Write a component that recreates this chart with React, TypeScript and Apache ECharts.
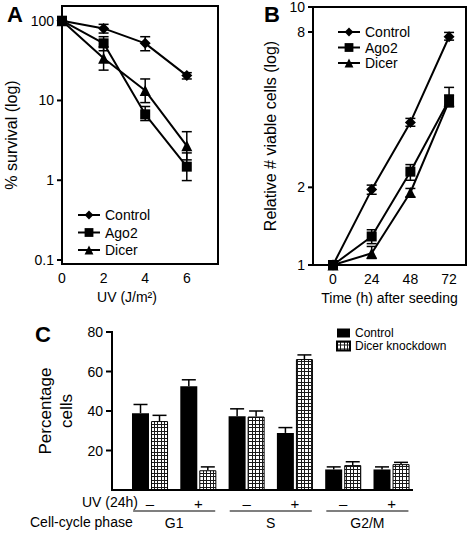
import React, { useEffect, useRef } from 'react';
import * as echarts from 'echarts';

const FONT = '"Liberation Sans", Arial, Helvetica, sans-serif';

// ---- Panel A: survival vs UV dose ----
const uvDose = [0, 2, 4, 6];
const survControl = [100, 80, 52, 20.5];
const survControlLow = [null, 70, 42, 18.6];
const survControlHigh = [null, 90, 63, 22.3];
const survAgo2 = [100, 52, 6.7, 1.48];
const survAgo2Low = [null, 42, 5.6, 0.99];
const survAgo2High = [null, 63, 8.4, 2.2];
const survDicer = [100, 33.8, 13.3, 2.7];
const survDicerLow = [null, 24, 9.4, 1.8];
const survDicerHigh = [null, 47, 18.6, 4.06];
const uvTicks = [0, 2, 4, 6];
const survTicks = [0.1, 1, 10, 100];

// ---- Panel B: viable cells vs time ----
const hours = [0, 24, 48, 72];
const cellsControl = [1, 1.96, 3.57, 7.67];
const cellsControlLow = [null, 1.88, 3.45, 7.44];
const cellsControlHigh = [null, 2.04, 3.7, 7.97];
const cellsAgo2 = [1, 1.29, 2.3, 4.36];
const cellsAgo2Low = [null, 1.21, 2.13, 4.13];
const cellsAgo2High = [null, 1.37, 2.45, 4.88];
const cellsDicer = [1, 1.11, 1.91, 4.32];
const cellsDicerLow = [null, 1.06, 1.84, 4.1];
const cellsDicerHigh = [null, 1.18, 1.98, 4.56];
const hourTicks = [0, 24, 48, 72];
const cellTicks = [1, 2, 8, 10];

// ---- Panel C: cell-cycle distribution ----
const uvConditions = ['\u2013', '+', '\u2013', '+', '\u2013', '+'];
const pctControl = [38.9, 52.5, 37.4, 28.9, 10.4, 10.4];
const pctControlHigh = [43.3, 55.8, 41.1, 31.6, 11.7, 11.7];
const pctDicer = [34.9, 10, 37.2, 66.3, 12.6, 13.1];
const pctDicerHigh = [37.8, 11.7, 40, 68.4, 14.3, 14];
const phases = ['G1', 'S', 'G2/M'];
const pctTicks = [20, 40, 60, 80];
const barNames = ['Control', 'Dicer knockdown'];

const lineNames = ['Control', 'Ago2', 'Dicer'];
const lineSymbols = ['diamond', 'rect', 'triangle'];
const lineSizes = [11, 10, 11];

// axis extents (layout)
const aXRange = [0, 7.5];
const aYRange = [0.0891, 152.8];
const bXRange = [-12.4, 82.5];
const bYRange = [1, 10];
const cXRange = [-0.787, 5.424];
const cYRange = [0, 80];

const txt = { color: '#000', fontFamily: FONT };

function pairs(xs: number[], ys: (number | null)[]) {
  return xs.map((x, i) => [x, ys[i]]);
}
function errData(xs: number[], lo: (number | null)[], hi: (number | null)[]) {
  const out: number[][] = [];
  xs.forEach((x, i) => {
    if (lo[i] != null && hi[i] != null) out.push([x, lo[i] as number, hi[i] as number]);
  });
  return out;
}

function makeHatch() {
  const c = document.createElement('canvas');
  c.width = 7;
  c.height = 7;
  const ctx = c.getContext('2d')!;
  ctx.fillStyle = '#fff';
  ctx.fillRect(0, 0, 7, 7);
  ctx.fillStyle = '#1a1a1a';
  ctx.fillRect(0, 0, 7, 1);
  ctx.fillRect(0, 3, 7, 1);
  ctx.fillRect(0, 0, 1, 7);
  ctx.fillRect(3, 0, 1, 7);
  return c;
}

const seg = (x1: number, y1: number, x2: number, y2: number, w: number) => ({
  type: 'line', shape: { x1, y1, x2, y2 }, style: { stroke: '#000', lineWidth: w },
});

const capErr = (cap: number) => (params: any, api: any) => {
  const x = api.value(0);
  const lo = api.coord([x, api.value(1)]);
  const hi = api.coord([x, api.value(2)]);
  return {
    type: 'group',
    children: [
      seg(lo[0], lo[1], hi[0], hi[1], 1.5),
      seg(lo[0] - cap, lo[1], lo[0] + cap, lo[1], 1.5),
      seg(hi[0] - cap, hi[1], hi[0] + cap, hi[1], 1.5),
    ],
  };
};

// frame + left ticks as graphic elements, positioned through the chart's own scales
const frameDecor = (xr: number[], yr: number[], ticks: number[], tickLen: number, full: boolean) =>
  (chart: any) => {
    const conv = (v: number[]) => chart.convertToPixel({ gridIndex: 0 }, v) as number[];
    const bl = conv([xr[0], yr[0]]);
    const tr = conv([xr[1], yr[1]]);
    const els: any[] = [
      seg(bl[0], bl[1] + 1, bl[0], tr[1] - 1, 2),
      seg(bl[0] - 1, bl[1], tr[0] + 1, bl[1], 2),
    ];
    if (full) {
      els.push(seg(bl[0] - 1, tr[1], tr[0] + 1, tr[1], 2));
      els.push(seg(tr[0], bl[1] + 1, tr[0], tr[1] - 1, 2));
    }
    ticks.forEach((t) => {
      const p = conv([xr[0], t]);
      els.push(seg(p[0] - tickLen, p[1], p[0], p[1], 2));
    });
    return els.map((e) => ({ ...e, z: 100 }));
  };

const noLine = { show: false, onZero: false };
const letter = (t: string, left: number, top: number) => ({
  type: 'text', left, top, style: { text: t, fontSize: 22, fontWeight: 'bold', fill: '#000', fontFamily: FONT },
});

function lineSeries(xs: number[], vals: number[][], lo: (number | null)[][], hi: (number | null)[][]) {
  const s: any[] = [];
  [0, 1, 2].forEach((k) => {
    s.push({ type: 'custom', name: 'err' + k, clip: false, renderItem: capErr(5), data: errData(xs, lo[k], hi[k]), z: 3 });
  });
  [0, 1, 2].forEach((k) => {
    s.push({
      type: 'line', name: lineNames[k], symbol: lineSymbols[k], symbolSize: lineSizes[k], clip: false,
      lineStyle: { color: '#000', width: 2 }, itemStyle: { color: '#000' }, z: 4, data: pairs(xs, vals[k]),
    });
  });
  return s;
}

function optionA(): any {
  const series = lineSeries(uvDose, [survControl, survAgo2, survDicer],
    [survControlLow, survAgo2Low, survDicerLow], [survControlHigh, survAgo2High, survDicerHigh]);
  return {
    animation: false,
    textStyle: { fontFamily: FONT },
    grid: { left: 62, top: 6, width: 156, height: 258, outerBoundsMode: 'none' },
    xAxis: {
      type: 'value', min: aXRange[0], max: aXRange[1],
      axisLine: noLine, axisTick: { show: false }, splitLine: { show: false },
      axisLabel: { customValues: uvTicks, fontSize: 14, margin: 7, ...txt },
      name: 'UV (J/m\u00b2)', nameLocation: 'middle', nameGap: 26,
      nameTextStyle: { fontSize: 14, padding: [0, 26, 0, 0], ...txt },
    },
    yAxis: {
      type: 'log', logBase: 10, min: aYRange[0], max: aYRange[1],
      axisLine: noLine, splitLine: { show: false }, axisTick: { show: false },
      axisLabel: { customValues: survTicks, fontSize: 14, margin: 8, ...txt, formatter: (v: number) => String(v) },
      name: '% survival (log)', nameLocation: 'middle', nameGap: 42,
      nameTextStyle: { fontSize: 16, ...txt },
    },
    legend: {
      data: lineNames, orient: 'vertical', left: 72, top: 203, itemWidth: 22, itemHeight: 11,
      itemGap: 3.5, selectedMode: false, textStyle: { fontSize: 14, ...txt },
    },
    graphic: [letter('A', 7, 3)],
    series,
  };
}

function optionB(): any {
  const series = lineSeries(hours, [cellsControl, cellsAgo2, cellsDicer],
    [cellsControlLow, cellsAgo2Low, cellsDicerLow], [cellsControlHigh, cellsAgo2High, cellsDicerHigh]);
  return {
    animation: false,
    textStyle: { fontFamily: FONT },
    grid: { left: 73, top: 7, width: 153, height: 258, outerBoundsMode: 'none' },
    xAxis: {
      type: 'value', min: bXRange[0], max: bXRange[1],
      axisLine: noLine, axisTick: { show: false }, splitLine: { show: false },
      axisLabel: { customValues: hourTicks, fontSize: 14, margin: 7, ...txt },
      name: 'Time (h) after seeding', nameLocation: 'middle', nameGap: 26,
      nameTextStyle: { fontSize: 14, ...txt },
    },
    yAxis: {
      type: 'log', logBase: 10, min: bYRange[0], max: bYRange[1],
      axisLine: noLine, splitLine: { show: false }, axisTick: { show: false },
      axisLabel: { customValues: cellTicks, fontSize: 14, margin: 8, ...txt, formatter: (v: number) => String(v) },
      name: 'Relative # viable cells (log)', nameLocation: 'middle', nameGap: 27,
      nameTextStyle: { fontSize: 16, ...txt },
    },
    legend: {
      data: lineNames, orient: 'vertical', left: 92, top: 20, itemWidth: 22, itemHeight: 11,
      itemGap: 1.5, selectedMode: false, textStyle: { fontSize: 14, ...txt },
    },
    graphic: [letter('B', 24, 3)],
    series,
  };
}

function optionC(): any {
  const hatch = { image: makeHatch(), repeat: 'repeat', imageWidth: 7, imageHeight: 7 } as any;
  const idx = uvConditions.map((_, i) => i);
  const phaseCenters = phases.map((_, g) => g * 2 + 0.5);
  const cErr: number[][] = [];
  idx.forEach((i) => {
    cErr.push([i, pctControl[i], pctControlHigh[i], -9.5]);
    cErr.push([i, pctDicer[i], pctDicerHigh[i], 9.5]);
  });
  const series: any[] = [
    {
      type: 'bar', name: barNames[0], data: pairs(idx, pctControl), barWidth: 17, barGap: '12%',
      itemStyle: { color: '#000' },
    },
    {
      type: 'bar', name: barNames[1], data: pairs(idx, pctDicer), barWidth: 17, barGap: '12%',
      itemStyle: { color: hatch, borderColor: '#000', borderWidth: 1 },
    },
    {
      type: 'custom', name: 'err', z: 5, data: cErr, clip: false,
      renderItem: (params: any, api: any) => {
        const x = api.value(0);
        const off = api.value(3);
        const lo = api.coord([x, api.value(1)]);
        const hi = api.coord([x, api.value(2)]);
        const cx = lo[0] + off;
        return {
          type: 'group',
          children: [seg(cx, lo[1], cx, hi[1], 1.5), seg(cx - 7, hi[1], cx + 7, hi[1], 1.5)],
        };
      },
    },
    {
      type: 'custom', name: 'groupLines', clip: false,
      data: phaseCenters.map((c) => [c, 0]),
      renderItem: (params: any, api: any) => {
        const c = api.value(0);
        const p = api.coord([c - 0.85, 0]);
        const q = api.coord([c + 0.85, 0]);
        return seg(p[0], p[1] + 21, q[0], q[1] + 21, 1.2);
      },
    },
  ];
  return {
    animation: false,
    textStyle: { fontFamily: FONT },
    grid: { left: 112, top: 27, width: 300, height: 158, outerBoundsMode: 'none' },
    xAxis: [
      {
        type: 'value', min: cXRange[0], max: cXRange[1],
        axisLine: noLine, axisTick: { show: false }, splitLine: { show: false },
        axisLabel: {
          customValues: idx, fontSize: 15, margin: 6, ...txt,
          formatter: (v: number) => uvConditions[Math.round(v)] ?? '',
        },
      },
      {
        type: 'value', min: cXRange[0], max: cXRange[1], position: 'bottom', offset: 21,
        axisLine: noLine, axisTick: { show: false }, splitLine: { show: false },
        axisLabel: {
          customValues: phaseCenters, fontSize: 14, margin: 5, ...txt,
          formatter: (v: number) => phases[Math.round((v - 0.5) / 2)] ?? '',
        },
      },
    ],
    yAxis: {
      type: 'value', min: cYRange[0], max: cYRange[1], interval: 20,
      axisLine: noLine, splitLine: { show: false }, axisTick: { show: false },
      axisLabel: { customValues: pctTicks, fontSize: 14, margin: 9, ...txt },
      name: 'Percentage\ncells', nameLocation: 'middle', nameGap: 34,
      nameTextStyle: { fontSize: 17, lineHeight: 21, ...txt },
    },
    legend: {
      data: barNames, orient: 'vertical', left: 331, top: 17,
      itemWidth: 13, itemHeight: 9, itemGap: 1, icon: 'rect', selectedMode: false,
      textStyle: { fontSize: 12, ...txt },
    },
    graphic: [
      letter('C', 35, 18),
      { type: 'text', left: 82, top: 190, style: { text: 'UV (24h)', fontSize: 14, fill: '#000', fontFamily: FONT } },
      { type: 'text', left: 30, top: 210, style: { text: 'Cell-cycle phase', fontSize: 14, fill: '#000', fontFamily: FONT } },
    ],
    series,
  };
}

function Panel(props: {
  build: () => any; decor: (chart: any) => any[];
  left: number; top: number; width: number; height: number;
}) {
  const ref = useRef<HTMLDivElement>(null);
  useEffect(() => {
    const chart = echarts.init(ref.current!, null, { renderer: 'svg' });
    const opt = props.build();
    chart.setOption(opt);
    const extra = props.decor(chart);
    chart.setOption({ graphic: [...opt.graphic, ...extra] });
    return () => chart.dispose();
  }, []);
  return (
    <div
      ref={ref}
      style={{ position: 'absolute', left: props.left, top: props.top, width: props.width, height: props.height }}
    />
  );
}

export default function App() {
  useEffect(() => {
    document.body.style.margin = '0';
  }, []);
  return (
    <div style={{ position: 'relative', width: 470, height: 533, overflow: 'hidden' }}>
      <Panel build={optionA} decor={frameDecor(aXRange, aYRange, survTicks, 5, true)}
        left={0} top={0} width={240} height={318} />
      <Panel build={optionB} decor={frameDecor(bXRange, bYRange, cellTicks, 5, true)}
        left={240} top={0} width={230} height={318} />
      <Panel build={optionC} decor={frameDecor(cXRange, cYRange, pctTicks, 6, false)}
        left={0} top={305} width={470} height={228} />
    </div>
  );
}
